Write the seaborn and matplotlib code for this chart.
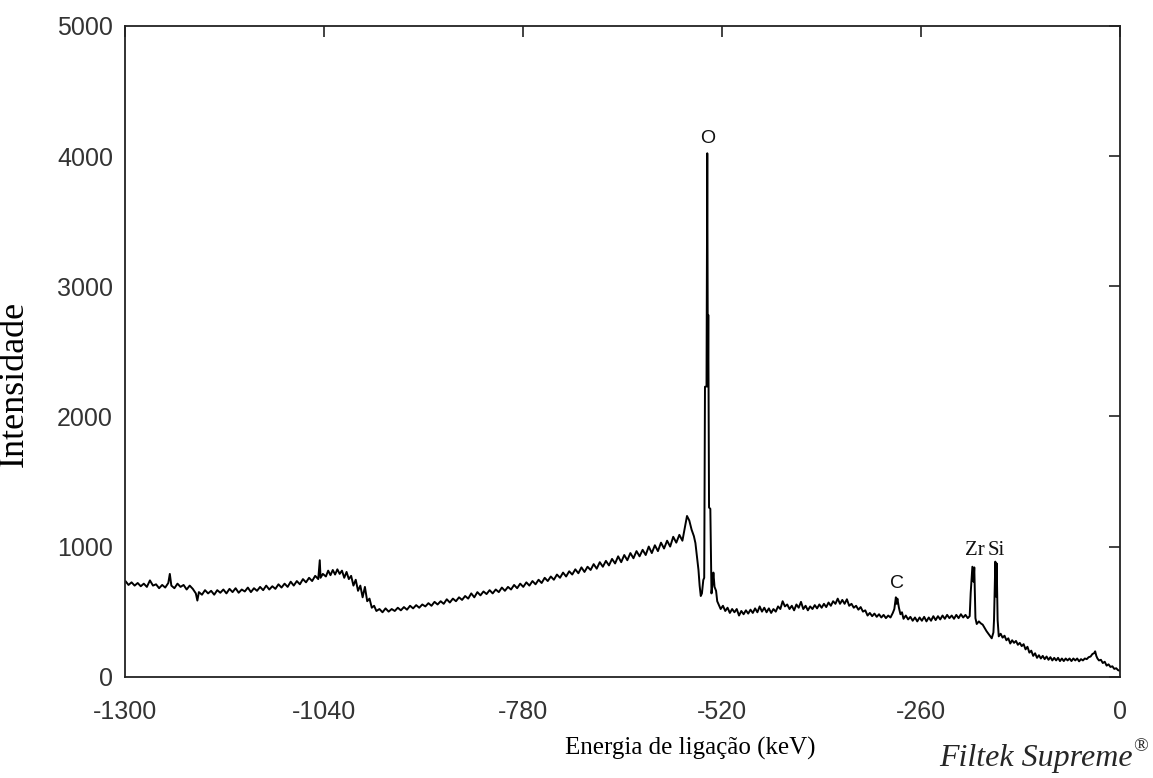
"""
XPS survey spectrum of Filtek Supreme, redrawn with seaborn.
"""
import pandas as pd
import seaborn as sns
import matplotlib.pyplot as plt
import matplotlib.ticker as plticker

# binding energy (keV) and intensity
energy = [
    -1300, -1296, -1292, -1288, -1284, -1280, -1276, -1272, -1268, -1264,
    -1260, -1256, -1252, -1248, -1244, -1242, -1240, -1236, -1232, -1228,
    -1224, -1220, -1216, -1212, -1208, -1206, -1204, -1200, -1196, -1192,
    -1188, -1184, -1180, -1176, -1172, -1168, -1164, -1160, -1156, -1152,
    -1148, -1144, -1140, -1136, -1132, -1128, -1124, -1120, -1116, -1112,
    -1108, -1104, -1100, -1096, -1092, -1088, -1084, -1080, -1076, -1072,
    -1068, -1064, -1060, -1056, -1052, -1048, -1046, -1045, -1042, -1038,
    -1035, -1032, -1029, -1026, -1023, -1020, -1017, -1014, -1011, -1008,
    -1005, -1002, -999, -996, -993, -990, -987, -984, -981, -978,
    -975, -972, -968, -964, -960, -956, -952, -948, -944, -940,
    -936, -932, -928, -924, -920, -916, -912, -908, -904, -900,
    -896, -892, -888, -884, -880, -876, -872, -868, -864, -860,
    -856, -852, -848, -844, -840, -836, -832, -828, -824, -820,
    -816, -812, -808, -804, -800, -796, -792, -788, -784, -780,
    -776, -772, -768, -764, -760, -756, -752, -748, -744, -740,
    -736, -732, -728, -724, -720, -716, -712, -708, -704, -700,
    -696, -692, -688, -684, -680, -676, -672, -668, -664, -660,
    -656, -652, -648, -644, -640, -636, -632, -628, -624, -620,
    -616, -612, -608, -604, -600, -596, -592, -588, -584, -580,
    -576, -572, -569, -566, -563, -560, -557, -555, -553, -551,
    -549.5, -548, -546.5, -544.7, -543.5, -542.5, -540.5, -539.5, -538.7, -538.2,
    -537.2, -535.5, -534, -532.5, -531.5, -530, -528, -526.5, -525, -522,
    -519, -516, -513, -510, -507, -504, -501, -498, -495, -492,
    -489, -486, -483, -480, -477, -474, -471, -468, -465, -462,
    -459, -456, -453, -450, -447, -444, -441, -438, -435, -432,
    -429, -426, -423, -420, -417, -414, -411, -408, -405, -402,
    -399, -396, -393, -390, -387, -384, -381, -378, -375, -372,
    -369, -366, -363, -360, -357, -354, -351, -348, -345, -342,
    -339, -336, -333, -330, -327, -324, -321, -318, -315, -312,
    -309, -306, -303, -300, -297, -295, -293, -292, -291, -289,
    -287, -285, -283, -280, -277, -274, -271, -268, -265, -262,
    -259, -256, -253, -250, -247, -244, -241, -238, -235, -232,
    -229, -226, -223, -220, -217, -214, -211, -208, -205, -202,
    -199, -196.5, -195.2, -193, -191.5, -190.5, -189, -187.3, -184.5, -182,
    -179.5, -177, -174.5, -172, -169.5, -167.7, -165.5, -164.7, -163, -162,
    -161.2, -160, -158.5, -156, -153.5, -151, -148.5, -146, -143.5, -141,
    -138.5, -136, -133.5, -131, -128.5, -126, -123.5, -121, -118.5, -116,
    -113.5, -111, -108.5, -106, -103.5, -101, -98.5, -96, -93.5, -91,
    -88.5, -86, -83.5, -81, -78.5, -76, -73.5, -71, -68.5, -66,
    -63.5, -61, -58.5, -56, -53.5, -51, -48.5, -46, -43.5, -41,
    -38.5, -36, -34, -32.5, -31, -29.5, -27.5, -25, -22.5, -20,
    -17.5, -15, -12.5, -10, -7.5, -5, -2.5, 0,
]
intensity = [
    735, 705, 725, 700, 720, 695, 715, 690, 740, 700,
    710, 680, 705, 685, 720, 790, 700, 680, 715, 690,
    705, 670, 700, 675, 640, 585, 650, 630, 665, 640,
    660, 630, 665, 645, 670, 640, 675, 650, 680, 645,
    670, 655, 685, 650, 680, 660, 690, 665, 700, 670,
    695, 675, 710, 685, 715, 690, 730, 700, 735, 710,
    750, 725, 760, 735, 775, 750, 895, 760, 790, 770,
    815, 780, 820, 785, 825, 790, 815, 760, 805, 750,
    775, 700, 745, 660, 700, 610, 690, 580, 600, 530,
    545, 505, 520, 495, 525, 500, 520, 505, 530, 510,
    535, 515, 545, 525, 550, 530, 555, 540, 565, 545,
    575, 555, 580, 560, 595, 570, 600, 580, 610, 590,
    620, 600, 640, 610, 650, 625, 655, 635, 665, 640,
    670, 650, 685, 660, 690, 670, 705, 680, 715, 690,
    725, 700, 735, 710, 745, 720, 760, 735, 770, 745,
    785, 760, 800, 770, 810, 785, 825, 795, 840, 805,
    845, 820, 865, 830, 880, 845, 890, 855, 905, 870,
    925, 880, 935, 895, 950, 910, 965, 925, 975, 935,
    1000, 950, 1010, 965, 1030, 985, 1045, 1000, 1075, 1030,
    1090, 1045, 1140, 1235, 1200, 1130, 1080, 1027, 920, 820,
    700, 620, 640, 743, 760, 2228, 2230, 4022, 2230, 2780,
    1300, 1290, 640, 720, 800, 690, 660, 580, 560, 520,
    545, 505, 530, 490, 520, 495, 520, 470, 505, 480,
    510, 485, 515, 490, 525, 495, 540, 500, 530, 495,
    525, 490, 520, 500, 540, 520, 580, 540, 555, 520,
    545, 510, 555, 530, 575, 520, 545, 510, 540, 520,
    550, 525, 555, 530, 560, 535, 570, 545, 580, 560,
    600, 560, 590, 560, 595, 545, 560, 530, 545, 515,
    535, 500, 510, 470, 490, 465, 485, 460, 480, 455,
    475, 450, 470, 455, 490, 520, 610, 560, 600, 530,
    480, 495, 445, 470, 440, 460, 430, 455, 425, 455,
    430, 460, 425, 455, 430, 465, 435, 465, 440, 470,
    445, 475, 450, 470, 445, 475, 450, 480, 455, 475,
    450, 465, 643, 845, 730, 840, 450, 405, 425, 410,
    400, 375, 350, 330, 310, 295, 340, 436, 884, 615,
    870, 436, 310, 330, 300, 315, 280, 295, 255, 280,
    260, 275, 245, 260, 235, 250, 210, 230, 185, 200,
    160, 180, 145, 165, 140, 160, 135, 155, 130, 150,
    125, 145, 125, 145, 120, 140, 120, 140, 125, 140,
    120, 140, 125, 140, 118, 135, 125, 140, 135, 150,
    155, 175, 180, 195, 160, 140, 125, 130, 105, 115,
    85, 95, 75, 80, 60, 65, 50, 45,
]

# peak labels
peak_names = ["O", "C", "Zr", "Si"]
peak_energy = [-539.5, -292, -189.5, -162]
peak_height = [4070, 650, 900, 900]

x_ticks = [-1300, -1040, -780, -520, -260, 0]

sns.set_style("white")
plt.rcParams["font.family"] = ["Liberation Sans", "DejaVu Sans"]
plt.rcParams["axes.unicode_minus"] = False

spec_df = pd.DataFrame({"energy": energy, "intensity": intensity})

fig = plt.figure(figsize=(11.53, 7.78), dpi=100)
ax = fig.add_axes([0.1088, 0.1302, 0.8626, 0.8364])

sns.lineplot(data=spec_df, x="energy", y="intensity", ax=ax,
             color="black", linewidth=1.4, estimator=None, sort=False)

ax.set_xlim(-1300, 0)
ax.set_ylim(0, 5000)
ax.set_xticks(x_ticks)
ax.yaxis.set_major_locator(plticker.MultipleLocator(base=1000))
ax.tick_params(direction="in", length=8, width=1.2, color="#222222",
               labelcolor="#333333", labelsize=18, top=True, right=True)
ax.tick_params(axis="x", pad=17)
ax.tick_params(axis="y", pad=9)
for sp in ax.spines.values():
    sp.set_linewidth(1.3)
    sp.set_color("#222222")
    sp.set_visible(True)

ax.set_xlabel("Energia de ligação (keV)", family="Liberation Serif",
              fontsize=18, color="black")
ax.xaxis.set_label_coords(0.568, -0.093)
ax.set_ylabel("Intensidade", family="Liberation Serif", fontsize=26,
              color="black")
ax.yaxis.set_label_coords(-0.095, 0.45)

for name, px, py in zip(peak_names, peak_energy, peak_height):
    if name in ("Zr", "Si"):
        ax.text(px, py, name, ha="center", va="bottom", fontsize=15,
                family="Liberation Serif", color="#111111")
    else:
        ax.text(px, py, name, ha="center", va="bottom", fontsize=14,
                family="Liberation Sans", color="#111111")

fig.text(0.9825, 0.0155, "Filtek Supreme", ha="right", va="baseline",
         fontsize=23, family="Liberation Serif", style="italic")
fig.text(0.9830, 0.034, "®", ha="left", va="baseline", fontsize=14,
         family="Liberation Serif")

fig.savefig("out.png", dpi=100)
plt.close()
